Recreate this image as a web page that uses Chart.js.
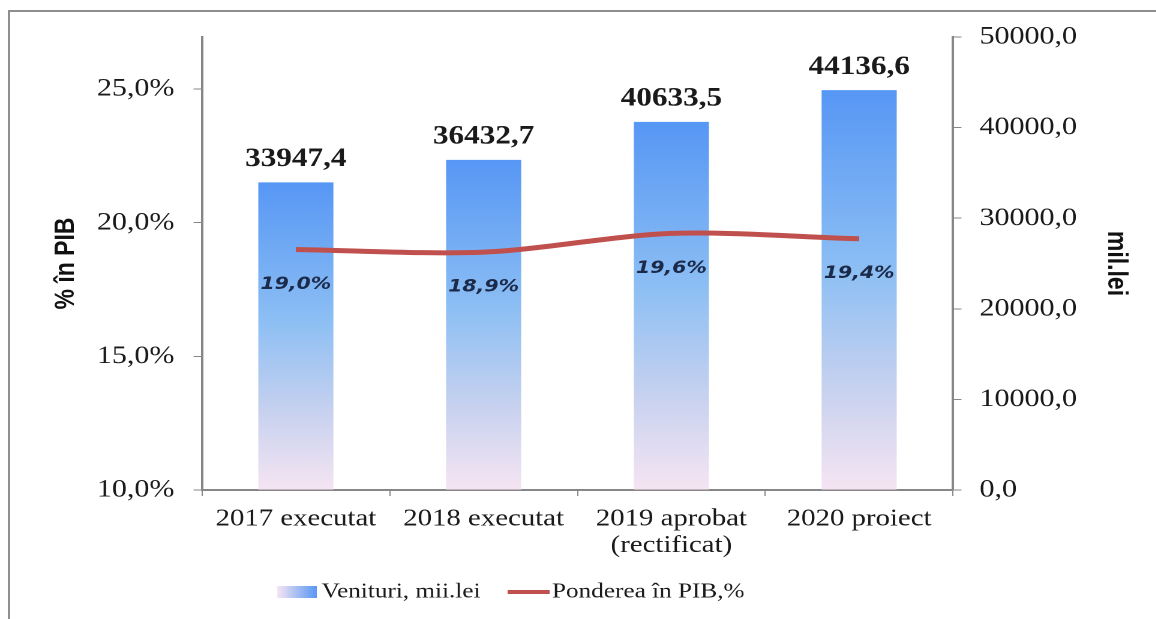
<!DOCTYPE html>
<html>
<head>
<meta charset="utf-8">
<script src="https://cdn.jsdelivr.net/npm/chart.js@4.4.1/dist/chart.umd.min.js"></script>
<style>
  html, body { margin: 0; padding: 0; background: #fff; overflow: hidden; }
  #frame { position: absolute; left: 8px; top: 10px; width: 1300px; height: 800px; border: 2px solid #8f8f8f; }
  /* the reference picture is stretched sideways, so the chart is too */
  #wrap { position: absolute; left: 0; top: 0; width: 963px; height: 619px; transform: scaleX(1.2); transform-origin: 0 0; }
</style>
</head>
<body>
<div id="frame"></div>
<div id="wrap"><canvas id="c" width="963" height="619"></canvas></div>
<script>
// categories and series
const categories = ['2017 executat', '2018 executat', ['2019 aprobat', '(rectificat)'], '2020 proiect'];
const venituri   = [33947.4, 36432.7, 40633.5, 44136.6];   // mil.lei, right axis
const ponderea   = [19.0, 18.9, 19.6, 19.4];               // % in PIB, left axis

const SERIF = "'Liberation Serif', 'Times New Roman', serif";
const SANS  = "'Liberation Sans', Arial, sans-serif";
const RED   = '#c0504d';
const AXIS  = '#878787';
const comma = (v) => Number(v).toFixed(1).replace('.', ',');

// bar fill: blue on top fading to pale pink at the base (per bar)
function barFill(ctx) {
  const chart = ctx.chart;
  if (!chart.chartArea || ctx.type !== 'data') return '#7fb2f4';
  const ys = chart.scales.yR;
  const top = ys.getPixelForValue(ctx.raw);
  const bottom = ys.getPixelForValue(0);
  const g = chart.ctx.createLinearGradient(0, top, 0, bottom);
  g.addColorStop(0, '#5797f5');
  g.addColorStop(0.45, '#8dbff4');
  g.addColorStop(0.75, '#c8d2ef');
  g.addColorStop(1, '#f6e5f3');
  return g;
}

const valueLabels = {
  id: 'valueLabels',
  afterDatasetsDraw(chart) {
    const ctx = chart.ctx;
    ctx.save();
    ctx.textAlign = 'center';
    ctx.textBaseline = 'middle';
    chart.getDatasetMeta(0).data.forEach((el, i) => {
      ctx.font = `bold 26px ${SERIF}`;
      ctx.fillStyle = '#1a1a1a';
      ctx.fillText(comma(venituri[i]), el.x, el.y - 23);
    });
    chart.getDatasetMeta(1).data.forEach((el, i) => {
      ctx.font = "italic bold 17px 'DejaVu Sans', Verdana, sans-serif";
      ctx.fillStyle = '#1c2a4a';
      ctx.fillText(comma(ponderea[i]) + '%', el.x, el.y + 35);
    });
    ctx.restore();
  }
};

// legend drawn by hand: gradient box for the bars, red stroke for the line
const bottomLegend = {
  id: 'bottomLegend',
  afterDraw(chart) {
    const ctx = chart.ctx;
    const y = 592;
    ctx.save();
    const g = ctx.createLinearGradient(231, 0, 264, 0);
    g.addColorStop(0, '#f6e5f3');
    g.addColorStop(1, '#5797f5');
    ctx.fillStyle = g;
    ctx.fillRect(231, y - 6, 33, 12);
    ctx.strokeStyle = RED;
    ctx.lineWidth = 4;
    ctx.beginPath(); ctx.moveTo(423, y); ctx.lineTo(458, y); ctx.stroke();
    ctx.font = `21px ${SERIF}`;
    ctx.fillStyle = '#1a1a1a';
    ctx.textBaseline = 'middle';
    ctx.fillText('Venituri, mii.lei', 268, y);
    ctx.fillText('Ponderea în PIB,%', 460, y);
    ctx.restore();
  }
};

new Chart(document.getElementById('c'), {
  data: {
    labels: categories,
    datasets: [
      {
        type: 'bar', label: 'Venituri, mii.lei', data: venituri, yAxisID: 'yR',
        backgroundColor: barFill, borderWidth: 0,
        barPercentage: 0.4, categoryPercentage: 1, order: 2,
      },
      {
        type: 'line', label: 'Ponderea în PIB,%', data: ponderea, yAxisID: 'yL',
        borderColor: RED, borderWidth: 5, pointRadius: 0, tension: 0.3,
        fill: false, order: 1,
      },
    ],
  },
  options: {
    responsive: false,
    devicePixelRatio: 2,
    animation: false,
    layout: { padding: { left: 37.6, right: 15.2, top: 37, bottom: 60 } },
    plugins: { legend: { display: false }, tooltip: { enabled: false } },
    scales: {
      x: {
        afterFit: (s) => { s.height = 69; },
        grid: { drawOnChartArea: false, drawTicks: true, tickLength: 6, color: AXIS, offset: true },
        border: { color: AXIS, width: 2 },
        ticks: { color: '#1a1a1a', font: { family: SERIF, size: 24, lineHeight: 1.1 }, padding: 10, maxRotation: 0, autoSkip: false },
      },
      yL: {
        position: 'left', min: 10, max: 26.95,
        afterFit: (s) => { s.width = 130.7; },
        afterBuildTicks: (s) => { s.ticks = s.ticks.filter(t => Math.abs(t.value % 5) < 1e-6); },
        grid: { drawOnChartArea: false, tickLength: 7, color: AXIS },
        border: { color: AXIS, width: 2 },
        ticks: { stepSize: 5, color: '#1a1a1a', padding: 16, font: { family: SERIF, size: 25 }, callback: (v) => comma(v) + '%' },
        title: { display: true, text: '% în PIB', color: '#111', font: { family: SANS, size: 23, weight: 'bold' } },
      },
      yR: {
        position: 'right', min: 0, max: 50000,
        afterFit: (s) => { s.width = 153.6; },
        grid: { drawOnChartArea: false, tickLength: 7, color: AXIS },
        border: { color: AXIS, width: 2 },
        ticks: { stepSize: 10000, color: '#1a1a1a', padding: 15, font: { family: SERIF, size: 25 }, callback: (v) => comma(v) },
        title: { display: true, text: 'mil.lei', color: '#111', font: { family: SANS, size: 23, weight: 'bold' } },
      },
    },
  },
  plugins: [valueLabels, bottomLegend],
});
</script>
</body>
</html>
